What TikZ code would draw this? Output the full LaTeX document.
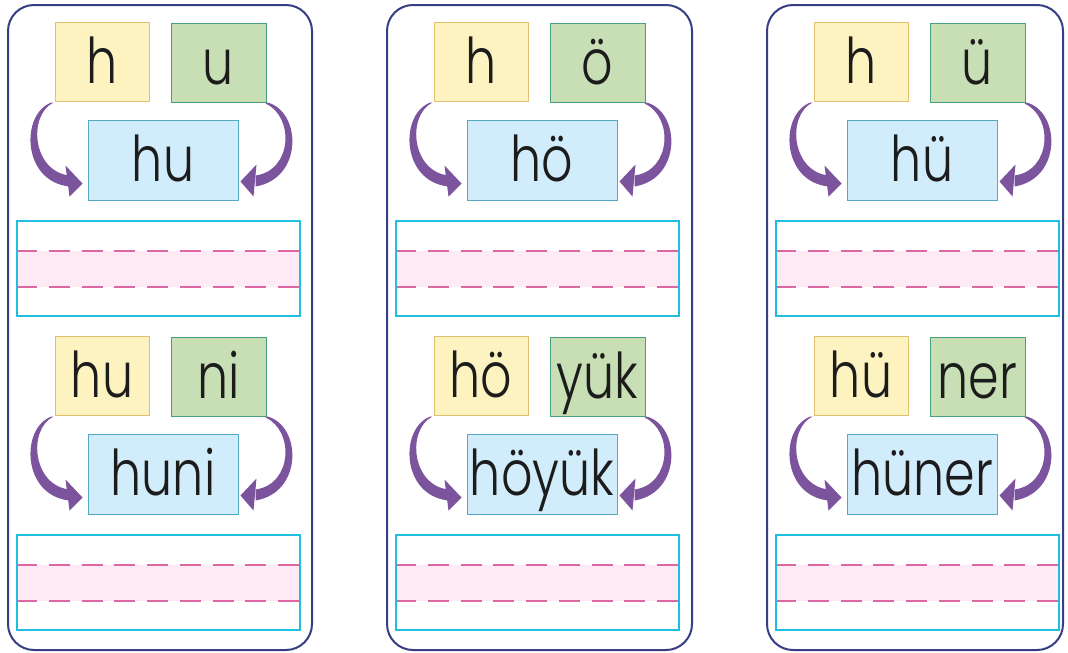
\documentclass[tikz,border=0pt]{standalone}
\usepackage{fontspec}
\usepackage{graphicx}
\usetikzlibrary{calc}
\IfFontExistsTF{Poppins Light}{\newfontfamily\kidfont{Poppins Light}}{%
  \IfFontExistsTF{Lato Light}{\newfontfamily\kidfont{Lato Light}}{%
    \newfontfamily\kidfont{Poppins}}}
\definecolor{navy}{RGB}{55,62,132}
\definecolor{yf}{RGB}{253,243,193}
\definecolor{yb}{RGB}{226,192,112}
\definecolor{gf}{RGB}{200,222,180}
\definecolor{gb}{RGB}{72,160,122}
\definecolor{bf}{RGB}{209,236,250}
\definecolor{bb}{RGB}{84,170,192}
\definecolor{wb}{RGB}{32,190,224}
\definecolor{pinkband}{RGB}{253,234,244}
\definecolor{dashcol}{RGB}{222,102,162}
\definecolor{arrowcol}{RGB}{124,84,158}
\definecolor{ink}{RGB}{28,28,28}
\newcommand\kw[1]{\scalebox{0.78}[1]{#1}}
\tikzset{
  panelbox/.style={draw=navy, line width=2pt, rounded corners=26pt, fill=white},
  wordbox/.style={line width=1pt, inner sep=0pt, text height=43pt, text depth=0pt,
    font=\fontsize{63}{63}\selectfont\kidfont, text=ink},
  ybox/.style={wordbox, draw=yb, fill=yf, minimum width=94pt, minimum height=79pt},
  gbox/.style={wordbox, draw=gb, fill=gf, minimum width=95pt, minimum height=79pt},
  bbox/.style={wordbox, draw=bb, fill=bf, minimum width=150pt, minimum height=80pt},
  wbox/.style={draw=wb, fill=white, line width=2pt, minimum width=283pt, minimum height=95pt, inner sep=0pt},
  dashline/.style={draw=dashcol, line width=1.8pt, dash pattern=on 21pt off 11.7pt, dash phase=1.7pt},
}
% #1 prefix, #2 left word, #3 right word, #4 joined word
\newcommand\halfunit[4]{%
  \node[ybox] (#1y) at (102,61.5) {\kw{#2}};
  \node[gbox] (#1g) at (218.5,62.5) {\kw{#3}};
  \node[bbox] (#1b) at (163,160) {\kw{#4}};
  \node[wbox] (#1w) at (158.5,268.5) {};
  \fill[pinkband] (18,251) rectangle (299,287);
  \draw[dashline] (18,251) -- (299,251);
  \draw[dashline] (18,287) -- (299,287);
  % left arrow: from yellow box to joined box
  \fill[arrowcol, shift={(#1y.south west)}]
    (-3,1) .. controls (-34,12) and (-33,80) .. (15,85)
    -- (15,74) .. controls (-22,70) and (-27,14) .. (-1,1) -- cycle;
  \fill[arrowcol, shift={(#1y.south west)}] (11,64) -- (28,82) -- (15,95) -- cycle;
  % right arrow: from green box to joined box
  \fill[arrowcol, shift={(#1g.south east)}]
    (1,0) .. controls (35,9) and (37,76) .. (-11,84)
    -- (-11,73) .. controls (26,68) and (28,14) .. (-1,1) -- cycle;
  \fill[arrowcol, shift={(#1g.south east)}] (-10,62) -- (-26,79) -- (-13,94) -- cycle;
}
\newcommand\panelunit[9]{%
  % #1 x offset, #2 right edge, #3 prefix, #4-#6 top words, #7-#9 bottom words
  \begin{scope}[shift={(#1,0)}]
    \draw[panelbox] (8,5) rectangle (#2,650);
    \halfunit{#3a}{#4}{#5}{#6}
    \begin{scope}[shift={(0,314)}]
      \halfunit{#3b}{#7}{#8}{#9}
    \end{scope}
  \end{scope}
}
\begin{document}
\begin{tikzpicture}[x=1pt,y=-1pt]
  \useasboundingbox[fill=white] (0,0) rectangle (1068,653);
  \panelunit{0}{312}{p}{h}{u}{hu}{hu}{ni}{huni}
  \panelunit{379}{313}{q}{h}{ö}{hö}{hö}{yük}{höyük}
  \panelunit{759}{304}{r}{h}{ü}{hü}{hü}{ner}{hüner}
\end{tikzpicture}
\end{document}
